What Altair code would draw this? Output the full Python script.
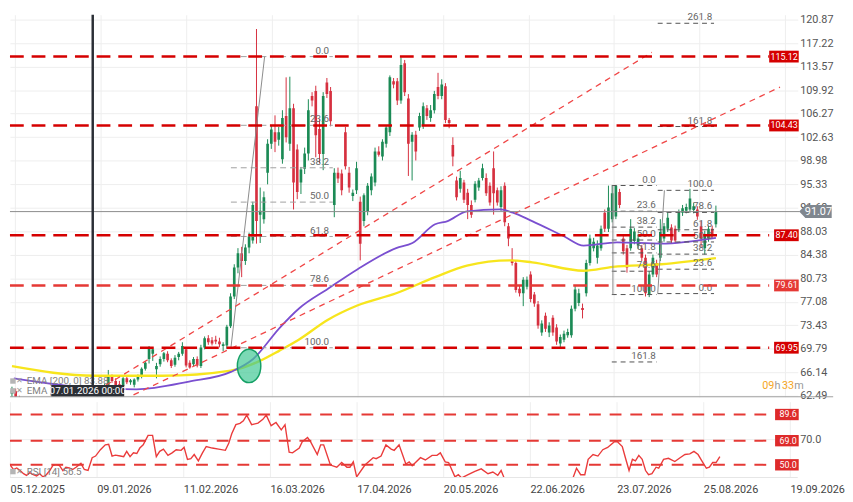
import altair as alt
import pandas as pd

# ---------------- candles (bar index, OHLC) ----------------
opens = [62.8, 63.2, 62.1, 61.3, 61.6, 61.0, 60.5, 61.0, 60.7, 60.1,
         60.6, 61.1, 60.8, 60.3, 59.9, 60.4, 60.9, 61.5, 61.2, 61.4,
         61.8, 61.5, 61.7, 62.0, 62.4, 63.6, 64.0, 65.5, 64.8, 64.3,
         64.0, 65.2, 64.6, 64.2, 65.0, 65.5, 66.7, 68.2, 69.0, 66.6,
         67.4, 68.2, 69.0, 68.0, 67.3, 68.5, 69.0, 69.7, 67.6, 67.4,
         68.2, 67.1, 70.0, 71.4, 71.1, 71.2, 70.9, 70.2, 70.3, 73.3,
         77.9, 82.4, 84.6, 83.4, 85.5, 86.6, 107.4, 90.6, 89.9, 97.1,
         101.6, 103.4, 102.2, 99.2, 105.9, 101.6, 107.1, 100.7, 95.6, 97.7,
         100.1, 109.0, 109.8, 103.9, 100.0, 111.1, 109.8, 92.1, 97.1, 97.0,
         103.4, 97.1, 93.5, 94.4, 92.6, 89.6, 91.1, 94.4, 95.6, 100.4,
         99.6, 101.6, 103.4, 111.3, 111.3, 108.3, 114.1, 108.6, 101.9, 103.0,
         104.1, 104.4, 107.1, 105.6, 106.8, 110.4, 109.0, 110.5, 105.3, 101.4,
         95.9, 94.6, 95.6, 94.0, 92.1, 92.9, 94.8, 96.3, 96.3, 95.1,
         97.8, 94.4, 91.8, 95.1, 88.8, 83.6, 83.1, 79.1, 78.4, 79.4,
         81.3, 78.2, 76.7, 72.3, 74.9, 72.3, 74.6, 73.1, 70.6, 71.2,
         71.9, 71.9, 76.0, 76.9, 76.1, 78.4, 83.1, 85.4, 83.9, 85.4,
         90.9, 88.4, 89.9, 90.3, 94.1, 86.9, 85.4, 85.4, 86.5, 85.8,
         85.4, 83.9, 78.2, 81.3, 83.1, 83.9, 86.9, 88.4, 88.6, 88.4,
         88.4, 90.9, 91.2, 91.4, 91.3, 91.4, 88.8, 85.4, 86.9, 88.4,
         89.1]
highs = [63.9, 63.6, 62.5, 61.9, 62.0, 61.4, 61.3, 61.5, 61.0, 60.9,
         61.4, 61.6, 61.2, 60.8, 60.6, 61.2, 61.8, 62.0, 61.7, 62.1,
         62.2, 62.0, 62.3, 62.6, 63.8, 64.4, 66.5, 65.8, 65.2, 64.8,
         65.4, 65.5, 65.1, 65.2, 65.8, 66.9, 67.9, 70.2, 70.0, 67.6,
         68.6, 69.3, 69.4, 68.3, 68.8, 69.3, 70.8, 70.0, 68.0, 68.5,
         68.6, 70.4, 71.7, 71.9, 71.6, 71.8, 71.5, 70.8, 73.5, 78.4,
         82.9, 85.4, 85.6, 86.0, 87.8, 92.6, 119.4, 94.8, 94.2, 102.3,
         104.4, 106.0, 104.2, 106.8, 111.9, 112.0, 107.8, 101.5, 98.0, 101.0,
         108.5, 109.6, 110.6, 105.4, 109.6, 111.8, 110.4, 97.8, 97.9, 97.6,
         104.2, 98.0, 94.5, 98.8, 93.4, 93.9, 95.5, 97.0, 101.0, 101.2,
         102.3, 104.5, 112.2, 111.8, 111.8, 115.0, 114.6, 109.3, 103.4, 103.6,
         106.4, 108.0, 107.6, 107.6, 109.8, 112.6, 111.6, 111.0, 105.6, 102.6,
         96.5, 97.4, 96.0, 94.6, 92.8, 95.8, 96.3, 98.5, 97.0, 95.6,
         100.4, 94.8, 95.0, 95.6, 89.3, 85.4, 83.5, 79.6, 80.9, 81.0,
         81.8, 78.6, 77.2, 74.2, 75.4, 73.9, 75.0, 73.6, 72.0, 72.6,
         72.9, 76.5, 79.5, 79.1, 76.8, 83.6, 87.5, 87.0, 86.6, 88.9,
         91.4, 95.1, 95.1, 95.2, 94.6, 87.4, 85.9, 89.9, 88.5, 87.6,
         85.9, 84.4, 81.8, 84.4, 83.6, 89.9, 89.3, 90.9, 89.1, 88.9,
         91.4, 92.1, 92.3, 94.6, 92.4, 91.9, 89.6, 88.1, 88.9, 88.9,
         92.0]
lows = [62.0, 61.8, 61.0, 60.6, 60.9, 60.2, 60.1, 60.4, 59.8, 59.7,
        60.3, 60.5, 60.0, 59.6, 59.4, 60.1, 60.6, 60.9, 60.7, 61.0,
        61.2, 60.9, 61.3, 61.4, 62.2, 63.3, 63.8, 64.5, 63.6, 63.6,
        63.8, 64.3, 64.2, 63.8, 64.7, 65.2, 66.4, 67.5, 67.9, 65.2,
        67.0, 67.8, 67.7, 66.8, 67.0, 68.0, 68.7, 66.9, 66.7, 67.1,
        66.9, 66.8, 69.7, 70.4, 70.3, 70.5, 70.0, 69.4, 69.8, 73.0,
        77.5, 81.5, 80.9, 82.8, 84.6, 86.1, 86.1, 86.2, 89.2, 95.3,
        100.8, 100.3, 101.3, 98.5, 101.8, 100.5, 91.4, 93.0, 93.8, 96.9,
        99.0, 107.4, 99.5, 98.6, 97.5, 108.7, 104.3, 90.2, 95.5, 93.6,
        97.6, 94.0, 92.7, 93.8, 83.5, 88.8, 90.5, 93.6, 95.0, 99.6,
        99.0, 101.0, 102.8, 110.2, 107.6, 107.8, 109.0, 96.6, 95.9, 99.0,
        103.6, 103.9, 105.3, 105.0, 106.3, 108.5, 108.5, 104.8, 104.0, 98.1,
        92.8, 94.0, 92.4, 89.9, 90.1, 92.5, 94.3, 95.9, 93.5, 92.0,
        90.6, 92.0, 91.2, 88.8, 85.7, 82.7, 78.5, 77.9, 76.4, 79.0,
        77.0, 76.3, 72.9, 71.8, 72.4, 71.6, 71.8, 70.4, 69.9, 70.8,
        71.5, 71.5, 75.6, 76.4, 74.5, 77.9, 82.7, 84.9, 83.0, 85.0,
        87.9, 87.9, 89.4, 89.9, 91.6, 84.4, 81.6, 85.0, 86.0, 85.3,
        83.4, 77.9, 77.8, 80.9, 80.9, 83.4, 86.4, 87.9, 86.1, 86.1,
        87.9, 90.4, 90.8, 90.9, 90.8, 89.8, 85.6, 84.4, 86.4, 86.9,
        88.6]
closes = [63.3, 62.1, 61.3, 61.6, 61.0, 60.5, 61.0, 60.7, 60.1, 60.6,
          61.1, 60.8, 60.3, 59.9, 60.4, 60.9, 61.5, 61.2, 61.4, 61.8,
          61.5, 61.7, 62.0, 62.4, 63.6, 64.1, 65.5, 64.8, 64.0, 63.9,
          65.2, 64.6, 64.9, 65.0, 65.6, 66.7, 67.6, 69.8, 69.7, 67.1,
          68.2, 69.1, 68.0, 67.1, 68.4, 69.0, 70.2, 67.2, 66.9, 68.2,
          67.2, 70.0, 71.4, 70.8, 70.6, 70.9, 70.5, 70.5, 73.2, 77.9,
          82.4, 84.6, 83.4, 85.5, 87.2, 92.1, 89.6, 91.2, 93.3, 101.6,
          103.8, 101.9, 103.4, 105.6, 102.6, 107.1, 95.6, 94.1, 97.6, 100.1,
          106.8, 108.3, 102.9, 100.0, 109.0, 109.3, 105.1, 97.1, 96.2, 94.4,
          98.1, 94.8, 94.0, 97.8, 86.1, 93.6, 95.1, 96.5, 100.4, 99.9,
          101.9, 104.1, 111.9, 110.8, 108.3, 113.8, 109.6, 101.6, 103.0, 100.4,
          105.9, 107.4, 105.9, 106.8, 109.3, 109.0, 110.8, 105.3, 104.8, 99.6,
          93.3, 96.3, 92.9, 92.1, 90.6, 95.4, 95.9, 97.8, 93.9, 92.5,
          93.9, 92.5, 94.4, 89.4, 86.9, 83.1, 78.9, 78.4, 80.5, 80.5,
          77.5, 76.8, 73.4, 73.7, 72.9, 73.4, 72.3, 70.9, 71.6, 72.1,
          72.4, 76.0, 79.0, 78.4, 75.8, 83.1, 86.9, 86.4, 85.8, 88.4,
          88.4, 91.7, 93.9, 95.1, 92.1, 84.9, 82.4, 88.4, 88.0, 86.9,
          83.9, 78.4, 81.3, 83.9, 81.3, 87.9, 88.8, 90.1, 86.6, 86.6,
          90.9, 91.6, 91.8, 93.1, 91.9, 90.3, 86.9, 87.6, 88.4, 87.3,
          91.07]

# ---------------- moving averages ----------------
ema100_idx = [0.5, 19.7, 33.6, 47.8, 59.1, 65.1, 72.2, 77.4, 85.3, 93.2, 103.7, 108.1,
              114.2, 117.6, 122.8, 131.8, 135.2, 140.4, 149.1, 154.3, 163.3, 175.3, 190.0]
ema100_val = [65.2, 63.8, 63.5, 64.7, 66.2, 68.2, 73.0, 76.0, 79.1, 82.1, 85.4, 86.2,
              89.1, 89.6, 91.1, 91.4, 90.9, 89.6, 87.2, 85.8, 86.3, 86.1, 87.0]
ema200_idx = [0.0, 22.3, 40.7, 59.1, 66.9, 72.2, 77.4, 85.3, 93.2, 103.7, 114.2, 122.8,
              134.4, 140.4, 154.3, 162.2, 175.3, 190.0]
ema200_val = [67.1, 65.6, 65.6, 66.4, 67.9, 69.5, 71.2, 74.3, 76.5, 78.4, 80.9, 82.7,
              83.5, 83.2, 81.9, 82.5, 82.9, 83.85]

# ---------------- RSI(14) ----------------
rsi_idx = [0.4, 1.7, 2.6, 3.5, 4.4, 5.2, 6.1, 7.0, 7.9, 8.7, 9.6, 10.5, 11.4, 12.2, 13.1, 14.0,
           14.9, 15.7, 16.6, 17.5, 18.4, 19.7, 20.6, 21.6, 22.7, 23.6, 24.9, 26.2, 27.1, 28.0,
           28.9, 30.2, 31.1, 31.9, 32.8, 33.7, 34.6, 35.4, 36.3, 37.6, 38.8, 39.8, 40.7, 41.7,
           42.9, 44.0, 45.1, 46.4, 47.2, 48.1, 49.0, 49.9, 51.0, 52.1, 53.1, 54.7, 56.4, 58.2,
           59.1, 59.9, 61.0, 62.1, 63.0, 63.9, 65.2, 66.9, 68.2, 69.1,
           70.4, 71.7, 73.1, 74.1, 75.2, 76.1, 77.9, 78.7, 80.1, 80.9, 82.7, 83.6, 84.4, 86.2,
           87.9, 89.2, 90.6, 91.4, 92.3, 93.2, 95.4, 97.6, 98.4, 99.7, 101.0, 102.4, 103.2,
           104.5, 106.3, 107.2, 108.0, 110.2, 111.5, 113.3, 114.6, 115.5, 116.8, 117.7, 119.4,
           120.3, 121.2, 122.9, 124.7, 126.4, 128.2, 129.5, 130.8, 131.7, 132.5,
           134.5, 136.5, 139.0, 142.0, 145.0, 147.5, 149.5,
           150.9, 151.8, 152.9, 154.0, 154.9, 156.2, 157.5, 158.8, 160.1, 161.9, 162.7, 164.0,
           164.9, 165.8, 166.7, 167.5, 168.4, 169.3, 170.2, 171.0, 171.9, 173.0, 173.7, 175.0,
           176.3, 178.0, 179.4, 180.7, 182.0, 183.1, 184.2, 185.2, 186.4, 187.2, 188.1, 189.0,
           190.0]
rsi_val = [51.8, 46.3, 47.5, 45.5, 43.0, 41.7, 43.8, 42.2, 41.2, 43.0, 40.5, 42.2, 45.5, 49.3,
           50.1, 49.3, 45.5, 48.1, 47.5, 46.3, 48.1, 51.1, 46.3, 45.5, 55.6, 56.9, 61.9, 65.7,
           66.2, 56.9, 57.6, 56.9, 56.4, 60.6, 56.4, 59.4, 58.9, 63.2, 65.7, 73.2, 73.2, 56.4,
           60.6, 62.4, 57.4, 59.4, 61.9, 61.4, 63.7, 54.3, 54.8, 58.1, 53.1, 59.4, 64.4, 63.2,
           62.4, 61.4, 66.9, 74.5, 81.6, 82.6, 84.6, 89.1, 81.6, 82.8, 85.8, 89.1,
           80.8, 83.3, 77.5, 81.6, 59.9, 59.4, 63.2, 68.2, 71.5, 68.2, 58.1, 65.7, 65.7, 49.8,
           48.1, 51.8, 48.1, 48.1, 52.3, 40.5, 49.8, 55.6, 54.8, 56.9, 65.7, 62.4, 61.4, 65.7,
           50.6, 52.3, 49.3, 55.6, 53.8, 57.4, 57.4, 59.4, 52.3, 51.8, 40.5, 42.2, 39.7, 42.2,
           44.8, 46.8, 43.0, 44.3, 41.7, 45.5, 39.7,
           34.0, 29.5, 31.0, 26.0, 28.5, 27.0, 33.0,
           40.0, 47.3, 42.2, 42.2, 54.3, 58.1, 56.9, 61.9, 63.7, 68.2, 68.2, 64.4, 54.8, 45.5,
           54.3, 53.1, 57.4, 54.3, 45.5, 42.2, 43.0, 48.1, 47.3, 54.3, 55.1, 52.6, 55.6, 58.1,
           58.6, 60.6, 58.1, 53.1, 47.3, 48.1, 51.8, 51.8, 56.5]

# ---------------- levels, fibonacci, trend channel ----------------
level_prices = [115.12, 104.43, 87.40, 79.61, 69.95]
level_labels = ["115.12", "104.43", "87.40", "79.61", "69.95"]
rsi_levels = [89.6, 69.0, 50.0]
rsi_level_labels = ["89.6", "69.0", "50.0"]
last_price = [91.07]
last_label = ["91.07"]

fib_big_levels = ["0.0", "23.6", "38.2", "50.0", "61.8", "78.6", "100.0"]
fib_big_px = [115.12, 104.46, 97.87, 92.54, 87.21, 79.62, 69.95]
fib_big_span = [59.1, 86.6]
fib_big_label_x = 85.6

fibA_levels = ["0.0", "23.6", "38.2", "50.0", "61.8", "78.6", "100.0", "161.8"]
fibA_px = [95.12, 91.13, 88.66, 86.66, 84.66, 81.82, 78.20, 67.74]
fibA_span = [161.9, 174.0]
fibA_label_x = 173.8

fibB_levels = ["0.0", "23.6", "38.2", "50.0", "61.8", "78.6", "100.0", "161.8", "261.8"]
fibB_px = [78.35, 82.13, 84.47, 86.36, 88.25, 90.94, 94.37, 104.27, 120.29]
fibB_span = [174.3, 189.5]
fibB_label_x = 189.0

fib_diag_idx = [59.1, 68.2, 174.3, 176.1]
fib_diag_px = [69.95, 115.12, 78.35, 94.37]
fib_diag_grp = ["big", "big", "B", "B"]
fibA_vert = {"i": [162.2], "lo": [78.20], "hi": [95.12]}

trend_idx = [22.8, 172.7, 32.8, 207.3]
trend_px = [63.23, 115.78, 62.63, 110.39]
trend_grp = ["a", "a", "b", "b"]

crosshair_idx = [21.8]
crosshair_label = ["07.01.2026 00:00"]
cross_marker_idx = [64.0]
cross_marker_px = [67.13]

price_ticks = [62.49, 66.14, 69.79, 73.43, 77.08, 80.73, 84.38, 88.03, 91.68, 95.33,
               98.98, 102.63, 106.27, 109.92, 113.57, 117.22, 120.87]
date_tick_idx = [0.8, 23.9, 47.0, 70.1, 93.2, 116.3, 139.4, 162.5, 185.6, 208.7]
date_tick_labels = ["05.12.2025", "09.01.2026", "11.02.2026", "16.03.2026", "17.04.2026",
                    "20.05.2026", "22.06.2026", "23.07.2026", "25.08.2026", "19.09.2026"]

# ---------------- tables ----------------
candles = pd.DataFrame({"i": list(range(len(closes))), "open": opens, "high": highs,
                        "low": lows, "close": closes})
candles["dir"] = ["up" if c >= o else "down" for o, c in zip(opens, closes)]
ema100 = pd.DataFrame({"i": ema100_idx, "v": ema100_val})
ema200 = pd.DataFrame({"i": ema200_idx, "v": ema200_val})
rsi = pd.DataFrame({"i": rsi_idx, "v": rsi_val})
levels = pd.DataFrame({"price": level_prices, "label": level_labels})
rlevels = pd.DataFrame({"price": rsi_levels, "label": rsi_level_labels})
lastdf = pd.DataFrame({"price": last_price, "label": last_label})
fib_big = pd.DataFrame({"label": fib_big_levels, "price": fib_big_px,
                        "x1": fib_big_span[0], "x2": fib_big_span[1], "lx": fib_big_label_x})
fibA = pd.DataFrame({"label": fibA_levels, "price": fibA_px,
                     "x1": fibA_span[0], "x2": fibA_span[1], "lx": fibA_label_x})
fibB = pd.DataFrame({"label": fibB_levels, "price": fibB_px,
                     "x1": fibB_span[0], "x2": fibB_span[1], "lx": fibB_label_x})
fib_diag = pd.DataFrame({"i": fib_diag_idx, "p": fib_diag_px, "g": fib_diag_grp})
fibAv = pd.DataFrame(fibA_vert)
trend = pd.DataFrame({"i": trend_idx, "p": trend_px, "g": trend_grp})
cross = pd.DataFrame({"i": crosshair_idx, "label": crosshair_label})
marker = pd.DataFrame({"i": cross_marker_idx, "p": cross_marker_px})

# ---------------- styles / scales ----------------
W, MAIN_H, RSI_H = 800, 388, 77
GREEN, RED = "#1b8a55", "#d6303f"
LV_RED, LV_RED_LIGHT = "#d50000", "#e53935"
FONT = "Roboto"

XS = alt.Scale(domain=[0.79, 210.76], nice=False, zero=False)
YS = alt.Scale(domain=[62.34, 121.62], nice=False, zero=False)
RS = alt.Scale(domain=[40.0, 99.7], nice=False, zero=False)

main_x_axis = alt.Axis(values=date_tick_idx, grid=True, gridColor="#eeeeee", labels=False,
                       ticks=False, domain=False, title=None)
main_y_axis = alt.Axis(orient="right", values=price_ticks, format=".2f", grid=True,
                       gridColor="#eeeeee", ticks=False, domain=False, labelColor="#555555",
                       labelFontSize=11, labelPadding=2, title=None, zindex=0)

mids = [(a + b) / 2 for a, b in zip(date_tick_idx[:-1], date_tick_idx[1:])]
label_expr = "'" + date_tick_labels[-1] + "'"
for m, lab in reversed(list(zip(mids, date_tick_labels[:-1]))):
    label_expr = f"datum.value < {m:.2f} ? '{lab}' : ({label_expr})"

rsi_x_axis = alt.Axis(values=date_tick_idx, labelExpr=label_expr, labelAlign="left",
                      labelFlush=False, labelOverlap=False, labelPadding=6, grid=True,
                      gridColor="#eeeeee", ticks=False, domain=False, labelColor="#444444",
                      labelFontSize=11, title=None)
rsi_y_axis = alt.Axis(orient="right", values=[70], format=".1f", grid=True, gridColor="#eeeeee",
                      ticks=False, domain=False, labelColor="#555555", labelFontSize=11,
                      labelPadding=2, title=None)


def mx(f):
    return alt.X(f"{f}:Q", scale=XS, axis=main_x_axis)


def my(f):
    return alt.Y(f"{f}:Q", scale=YS, axis=main_y_axis)


def rx(f):
    return alt.X(f"{f}:Q", scale=XS, axis=rsi_x_axis)


def ry(f):
    return alt.Y(f"{f}:Q", scale=RS, axis=rsi_y_axis)


def ptext(text, x, y, **kw):
    return alt.Chart(pd.DataFrame({"t": [text]})).mark_text(**kw).encode(
        x=alt.value(x), y=alt.value(y), text="t:N")


def picon(x, y):
    return alt.Chart(pd.DataFrame({"t": [0]})).mark_point(
        shape="square", size=30, filled=True, color="#b5b5b5", opacity=1).encode(
        x=alt.value(x), y=alt.value(y))


dircol = alt.Color("dir:N", scale=alt.Scale(domain=["up", "down"], range=[GREEN, RED]), legend=None)
lvcol = alt.condition(alt.datum.price == 79.61, alt.value(LV_RED_LIGHT), alt.value(LV_RED))

TAG_WIDE = "M-1,-0.4L1,-0.4L1,0.4L-1,0.4Z"
TAG_NARROW = "M-1,-0.48L1,-0.48L1,0.48L-1,0.48Z"
TAG_ARROW = "M-1,0L-0.62,-0.4L1,-0.4L1,0.4L-0.62,0.4Z"
ELLIPSE = "M0,-1A0.7,1,0,1,1,0,1A0.7,1,0,1,1,0,-1Z"

# ---------------- main panel ----------------
wicks = alt.Chart(candles).mark_rule(strokeWidth=1, clip=True).encode(
    x=mx("i"), y=my("low"), y2="high", color=dircol)
bodies = alt.Chart(candles).mark_bar(size=2.7, clip=True).encode(
    x=mx("i"), y=my("open"), y2="close", color=dircol)

ema200_line = alt.Chart(ema200).mark_line(color="#f7e51d", strokeWidth=2.4, interpolate="monotone",
                                          clip=True).encode(x=mx("i"), y=my("v"))
ema100_line = alt.Chart(ema100).mark_line(color="#7a4fd0", strokeWidth=1.8, interpolate="monotone",
                                          clip=True).encode(x=mx("i"), y=my("v"))

fib_big_rules = alt.Chart(fib_big).mark_rule(color="#a0a0a0", strokeDash=[6, 4], strokeWidth=1).encode(
    x=mx("x1"), x2="x2", y=my("price"))
fib_small = pd.concat([fibA, fibB])
fib_small_rules = alt.Chart(fib_small).mark_rule(color="#505050", strokeDash=[5, 4], strokeWidth=1,
                                                 clip=True).encode(x=mx("x1"), x2="x2", y=my("price"))
fib_text = alt.Chart(pd.concat([fib_big, fibA, fibB])).mark_text(
    align="right", baseline="bottom", dy=-1, fontSize=10, color="#666666").encode(
    x=mx("lx"), y=my("price"), text="label:N")
fib_diag_lines = alt.Chart(fib_diag).mark_line(color="#8a8a8a", strokeWidth=1).encode(
    x=mx("i"), y=my("p"), detail="g:N")
fibA_v = alt.Chart(fibAv).mark_rule(color="#8a8a8a", strokeWidth=1).encode(
    x=mx("i"), y=my("lo"), y2="hi")

trend_lines = alt.Chart(trend).mark_line(color="#f04646", strokeDash=[6, 5], strokeWidth=1.3,
                                         clip=True).encode(x=mx("i"), y=my("p"), detail="g:N")

level_rules = alt.Chart(levels).mark_rule(strokeDash=[14, 8], strokeWidth=2.6).encode(
    x=alt.value(0), x2=alt.value(771), y=my("price"), color=lvcol)
tags_wide = alt.Chart(levels).transform_filter("length(datum.label) > 5").mark_point(
    shape=TAG_WIDE, size=900, filled=True, opacity=1).encode(
    x=alt.value(786), y=my("price"), color=lvcol)
tags_narrow = alt.Chart(levels).transform_filter("length(datum.label) <= 5").mark_point(
    shape=TAG_NARROW, size=625, filled=True, opacity=1).encode(
    x=alt.value(788.5), y=my("price"), color=lvcol)
tag_text = alt.Chart(levels).mark_text(align="right", baseline="middle", color="white", fontSize=9).encode(
    x=alt.value(800), y=my("price"), text="label:N")

last_rule = alt.Chart(lastdf).mark_rule(color="#8a8a8a", strokeWidth=1).encode(
    x=alt.value(0), x2=alt.value(802), y=my("price"))
last_tag = alt.Chart(lastdf).mark_point(shape=TAG_ARROW, size=1089, filled=True, opacity=1,
                                        color="#80878f").encode(x=alt.value(818), y=my("price"))
last_text = alt.Chart(lastdf).mark_text(align="center", baseline="middle", color="white", fontSize=11).encode(
    x=alt.value(821), y=my("price"), text="label:N")

cross_rule = alt.Chart(cross).mark_rule(color="#2b2f36", strokeWidth=2.5).encode(
    x=mx("i"), y=alt.value(0), y2=alt.value(376))
cross_box = alt.Chart(cross).mark_rect(color="#2b2f36").encode(
    x=alt.value(42), x2=alt.value(116), y=alt.value(376), y2=alt.value(388))
cross_text = alt.Chart(cross).mark_text(color="white", fontSize=10, align="center", baseline="middle").encode(
    x=alt.value(79), y=alt.value(382.5), text="label:N")

marker_pt = alt.Chart(marker).mark_point(shape=ELLIPSE, size=1156, filled=True, color="#43c996",
                                         fillOpacity=0.7, opacity=1, stroke="#16a066",
                                         strokeWidth=1.5).encode(x=mx("i"), y=my("p"))

sep = alt.Chart(pd.DataFrame({"t": [0]})).mark_rule(color="#9e9e9e", strokeWidth=1).encode(
    x=alt.value(0), x2=alt.value(836), y=alt.value(388))

main = alt.layer(
    wicks, bodies, ema200_line, ema100_line,
    fib_big_rules, fib_small_rules, fibA_v, fib_diag_lines, fib_text,
    trend_lines, level_rules, last_rule,
    marker_pt, picon(3, 372), picon(3, 382),
    ptext("\u2715", 10, 372, fontSize=8, color="#999999", align="center", baseline="middle"),
    ptext("\u2715", 10, 382, fontSize=8, color="#999999", align="center", baseline="middle"),
    ptext("EMA [200, 0] 83.88", 17, 372, fontSize=10, color="#808080", align="left", baseline="middle"),
    ptext("EMA [100, 0] 87.04", 17, 382, fontSize=10, color="#808080", align="left", baseline="middle"),
    cross_rule, cross_box, cross_text,
    tags_wide, tags_narrow, tag_text, last_tag, last_text, sep,
    ptext("09", 764, 377, fontSize=11, color="#f5a623", align="left", baseline="middle"),
    ptext("h", 776.5, 377, fontSize=11, color="#9a9a9a", align="left", baseline="middle"),
    ptext("33", 784, 377, fontSize=11, color="#f5a623", align="left", baseline="middle"),
    ptext("m", 796.5, 377, fontSize=11, color="#9a9a9a", align="left", baseline="middle"),
).properties(width=W, height=MAIN_H)

# ---------------- RSI panel ----------------
rsi_line = alt.Chart(rsi).mark_line(color="#ea3b3b", strokeWidth=1.4, clip=True).encode(
    x=rx("i"), y=ry("v"))
rsi_rules = alt.Chart(rlevels).mark_rule(color=LV_RED_LIGHT, strokeDash=[12, 9], strokeWidth=2).encode(
    x=alt.value(0), x2=alt.value(775), y=ry("price"))
rsi_tags = alt.Chart(rlevels).mark_point(shape=TAG_NARROW, size=576, filled=True, opacity=1,
                                         color="#de2a2a").encode(x=alt.value(789), y=ry("price"))
rsi_tag_text = alt.Chart(rlevels).mark_text(align="right", baseline="middle", color="white", fontSize=9).encode(
    x=alt.value(799), y=ry("price"), text="label:N")
rsi_bottom = alt.Chart(pd.DataFrame({"t": [0]})).mark_rule(color="#e6e6e6", strokeWidth=1).encode(
    x=alt.value(0), x2=alt.value(800), y=alt.value(RSI_H))

rsi_panel = alt.layer(
    rsi_line, rsi_rules, rsi_tags, rsi_tag_text, rsi_bottom,
    picon(3, 71),
    ptext("\u2715", 10, 71, fontSize=8, color="#999999", align="center", baseline="middle"),
    ptext("RSI [14] 56.5", 17, 71, fontSize=10, color="#808080", align="left", baseline="middle"),
).properties(width=W, height=RSI_H)

chart = alt.vconcat(main, rsi_panel, spacing=0).properties(padding=0).configure(
    font=FONT).configure_view(stroke=None)

chart.save("out.html", embed_options={"renderer": "svg", "actions": False})
